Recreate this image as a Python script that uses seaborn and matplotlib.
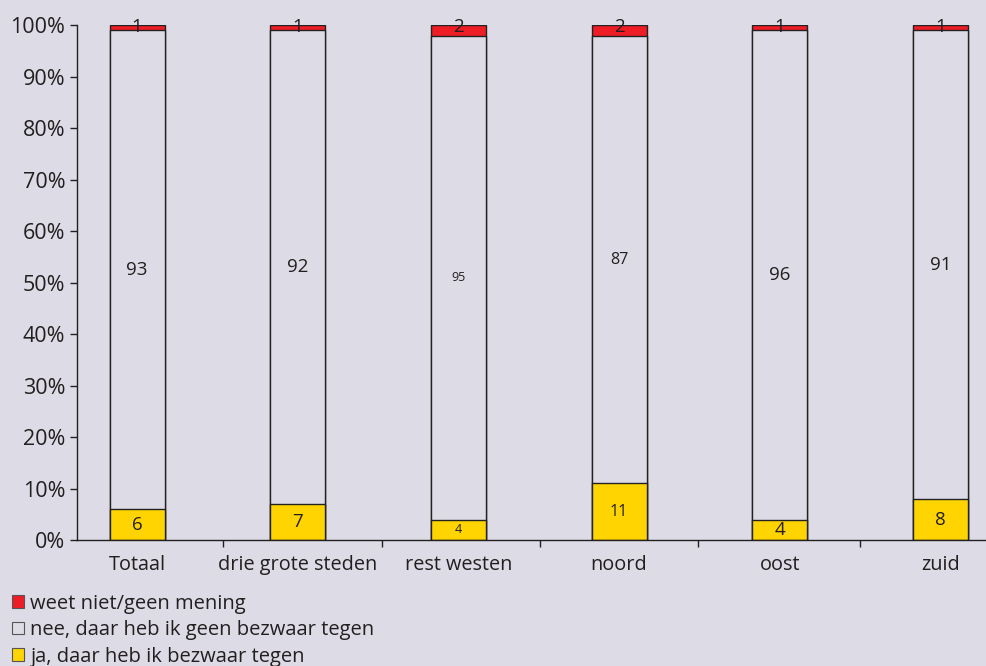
import numpy as np
import pandas as pd
import matplotlib
matplotlib.use('Agg')
import matplotlib.pyplot as plt
import seaborn as sns
from matplotlib.patches import Patch
from matplotlib.ticker import FixedLocator, PercentFormatter

regio = ['Totaal', 'drie grote steden', 'rest westen', 'noord', 'oost', 'zuid']
ja = [6, 7, 4, 11, 4, 8]
nee = [93, 92, 95, 87, 96, 91]
weet_niet = [1, 1, 2, 2, 1, 1]
label_size = [13.5, 13.5, 9, 11.5, 13.5, 13.5]  # sommige labels kleiner in origineel

reeks_namen = ['weet niet/geen mening', 'nee, daar heb ik geen bezwaar tegen', 'ja, daar heb ik bezwaar tegen']

bg = '#dddbe5'
rood = '#ee1c25'
geel = '#ffd400'
tekst = '#231f20'

df = pd.DataFrame({'regio': regio, 'ja': ja, 'nee': nee, 'weet': weet_niet})
totaal = df['ja'] + df['nee'] + df['weet']
df['p_ja'] = df['ja'] / totaal * 100
df['p_nee'] = df['nee'] / totaal * 100
df['p_weet'] = df['weet'] / totaal * 100
df['cum_nee'] = df['p_ja'] + df['p_nee']
df['cum_weet'] = df['cum_nee'] + df['p_weet']

sns.set_style('white')
plt.rcParams['font.family'] = ['Open Sans', 'DejaVu Sans']

fig = plt.figure(figsize=(9.87, 6.66), dpi=100, facecolor=bg)
ax = fig.add_axes([0.078, 0.189, 0.922, 0.773])
ax.set_facecolor(bg)

breedte = 0.343
# gestapeld: eerst totale hoogte, dan overschrijven
sns.barplot(data=df, x='regio', y='cum_weet', color=rood, width=breedte, saturation=1,
            edgecolor='#222222', linewidth=1, ax=ax)
sns.barplot(data=df, x='regio', y='cum_nee', color=bg, width=breedte, saturation=1,
            edgecolor='#222222', linewidth=1, ax=ax)
sns.barplot(data=df, x='regio', y='p_ja', color=geel, width=breedte, saturation=1,
            edgecolor='#222222', linewidth=1, ax=ax)

for i in range(len(regio)):
    fs = label_size[i]
    ax.text(i, df['p_ja'][i] / 2, str(ja[i]), ha='center', va='center', fontsize=fs, color=tekst)
    ax.text(i, df['p_ja'][i] + df['p_nee'][i] / 2, str(nee[i]), ha='center', va='center',
            fontsize=fs, color=tekst)
    ax.text(i, 99.6, str(weet_niet[i]), ha='center', va='center', fontsize=13.5, color=tekst)

ax.set_xlim(-0.374, 5.29)
ax.set_ylim(0, 100)
ax.yaxis.set_major_locator(FixedLocator(np.arange(0, 101, 10)))
ax.yaxis.set_major_formatter(PercentFormatter(decimals=0))
ax.tick_params(axis='y', left=True, length=5, width=1, color=tekst, labelsize=15.5, labelcolor=tekst)
ax.tick_params(axis='x', which='major', bottom=False, length=0, labelsize=14.3, labelcolor=tekst, pad=11)
ax.xaxis.set_minor_locator(FixedLocator([0.535, 1.525, 2.51, 3.49, 4.5]))
ax.tick_params(axis='x', which='minor', bottom=True, length=5, width=1, color=tekst)
ax.set_xlabel('')
ax.set_ylabel('')
sns.despine(ax=ax, top=True, right=True)
for s in ['left', 'bottom']:
    ax.spines[s].set_color(tekst)
    ax.spines[s].set_linewidth(1)

handles = [Patch(facecolor=rood, edgecolor='#555555', linewidth=0.8),
           Patch(facecolor=bg, edgecolor='#555555', linewidth=0.8),
           Patch(facecolor=geel, edgecolor='#555555', linewidth=0.8)]
fig.legend(handles, reeks_namen, loc='lower left', bbox_to_anchor=(-0.006, -0.028), frameon=False,
           fontsize=14.5, handlelength=0.6, handleheight=0.6, handletextpad=0.3, labelspacing=0.32,
           labelcolor=tekst)

fig.savefig('out.png', dpi=100, facecolor=bg)
